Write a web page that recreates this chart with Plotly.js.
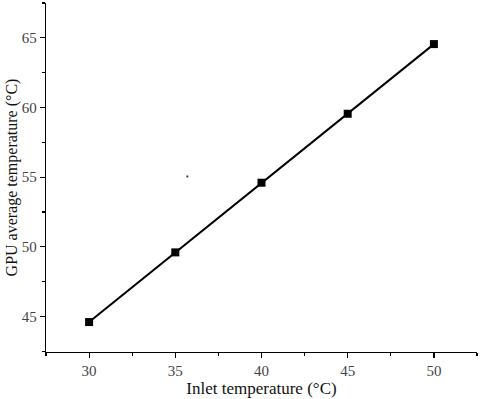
<!DOCTYPE html>
<html>
<head>
<meta charset="utf-8">
<script src="https://cdn.plot.ly/plotly-3.0.1.min.js"></script>
<style>
  html, body { margin: 0; padding: 0; background: #fff; }
  #chart { width: 480px; height: 399px; }
</style>
</head>
<body>
<div id="chart"></div>
<script>
const inletTemp = [30, 35, 40, 45, 50];
const gpuAvgTemp = [44.6, 49.6, 54.6, 59.55, 64.55];
const strayX = [35.7];
const strayY = [55.05];

const serif = '"Liberation Serif", "Times New Roman", serif';
const axisFont = {family: serif, size: 15, color: '#444'};

const traces = [{
    x: inletTemp, y: gpuAvgTemp,
    type: 'scatter', mode: 'lines+markers',
    line: {color: '#000', width: 2},
    marker: {symbol: 'square', size: 8, color: '#000'},
    showlegend: false
}, {
    x: strayX, y: strayY,
    type: 'scatter', mode: 'markers',
    marker: {symbol: 'square', size: 2, color: '#444'},
    showlegend: false, hoverinfo: 'skip'
}];

const layout = {
    width: 480, height: 399,
    margin: {l: 46, r: 3, t: 3, b: 47},
    paper_bgcolor: '#fff', plot_bgcolor: '#fff',
    xaxis: {
        range: [27.5, 52.5], tickvals: inletTemp,
        showgrid: false, zeroline: false,
        showline: true, linecolor: '#000', linewidth: 1.3,
        ticks: 'outside', ticklen: 5, tickwidth: 1.2, tickcolor: '#000',
        minor: {dtick: 2.5, tick0: 27.5, ticks: 'outside', ticklen: 3, tickcolor: '#000'},
        tickfont: axisFont,
        title: {text: 'Inlet temperature (°C)', font: {family: serif, size: 17, color: '#111'}, standoff: 2}
    },
    yaxis: {
        range: [42.45, 67.5], tickvals: [45, 50, 55, 60, 65],
        showgrid: false, zeroline: false,
        showline: true, linecolor: '#000', linewidth: 1.3,
        ticks: 'outside', ticklen: 5, tickwidth: 1.2, tickcolor: '#000',
        minor: {dtick: 2.5, tick0: 42.5, ticks: 'outside', ticklen: 3, tickcolor: '#000'},
        tickfont: axisFont,
        title: {text: 'GPU average temperature (°C)', font: {family: serif, size: 16, color: '#111'}, standoff: 0}
    }
};

Plotly.newPlot('chart', traces, layout, {displayModeBar: false, staticPlot: true});
</script>
</body>
</html>
